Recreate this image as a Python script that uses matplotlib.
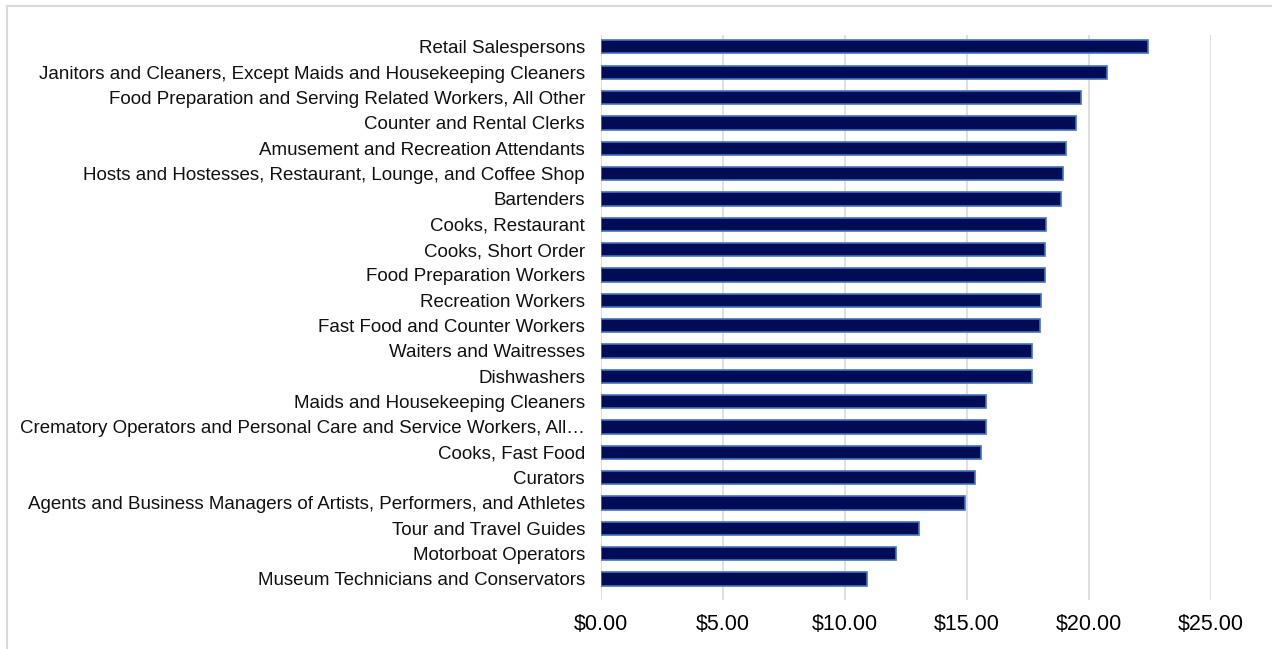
import matplotlib.pyplot as plt
from matplotlib.lines import Line2D
from matplotlib.ticker import FuncFormatter

plt.rcParams['font.family'] = ['Liberation Sans', 'DejaVu Sans']

# occupations, top to bottom
occupations = [
    "Retail Salespersons",
    "Janitors and Cleaners, Except Maids and Housekeeping Cleaners",
    "Food Preparation and Serving Related Workers, All Other",
    "Counter and Rental Clerks",
    "Amusement and Recreation Attendants",
    "Hosts and Hostesses, Restaurant, Lounge, and Coffee Shop",
    "Bartenders",
    "Cooks, Restaurant",
    "Cooks, Short Order",
    "Food Preparation Workers",
    "Recreation Workers",
    "Fast Food and Counter Workers",
    "Waiters and Waitresses",
    "Dishwashers",
    "Maids and Housekeeping Cleaners",
    "Crematory Operators and Personal Care and Service Workers, All\u2026",
    "Cooks, Fast Food",
    "Curators",
    "Agents and Business Managers of Artists, Performers, and Athletes",
    "Tour and Travel Guides",
    "Motorboat Operators",
    "Museum Technicians and Conservators",
]

# hourly wage in dollars
wages = [
    22.40, 20.75, 19.66, 19.46, 19.06, 18.92, 18.85, 18.24, 18.20, 18.20, 18.03,
    17.98, 17.66, 17.65, 15.78, 15.77, 15.57, 15.33, 14.93, 13.03, 12.11, 10.90,
]

tick_values = [0, 5, 10, 15, 20, 25]

W, H = 1272, 649
fig = plt.figure(figsize=(W / 100, H / 100), dpi=100)

# light frame along the top and left edges
fx, fy = 6.5 / W, 1 - 5.5 / H
fig.lines.append(Line2D([fx, 1], [fy, fy], transform=fig.transFigure, color="#d9d9d9", linewidth=1.5))
fig.lines.append(Line2D([fx, fx], [0, fy], transform=fig.transFigure, color="#d9d9d9", linewidth=1.5))

ax = fig.add_axes([601 / W, 1 - 600 / H, (1211 - 601) / W, (600 - 35) / H])

y_pos = list(range(len(occupations)))[::-1]
ax.barh(y_pos, wages, height=0.52, color="#000c55", edgecolor="#4472c4", linewidth=1.2, zorder=3)

ax.set_yticks(y_pos)
ax.set_yticklabels(occupations, fontsize=13.5, color="#111111")
ax.set_ylim(-0.83, len(occupations) - 0.53)

ax.set_xlim(0, 25)
ax.set_xticks(tick_values)
ax.xaxis.set_major_formatter(FuncFormatter(lambda v, _: f"${v:.2f}"))
ax.tick_params(axis="x", labelsize=15.5, length=0, pad=10)
ax.tick_params(axis="y", length=0, pad=11.5)

ax.grid(axis="x", color="#d9d9d9", linewidth=1.2, zorder=0)
for side in ["top", "right", "bottom", "left"]:
    ax.spines[side].set_visible(False)

fig.savefig("out.png", dpi=100)
